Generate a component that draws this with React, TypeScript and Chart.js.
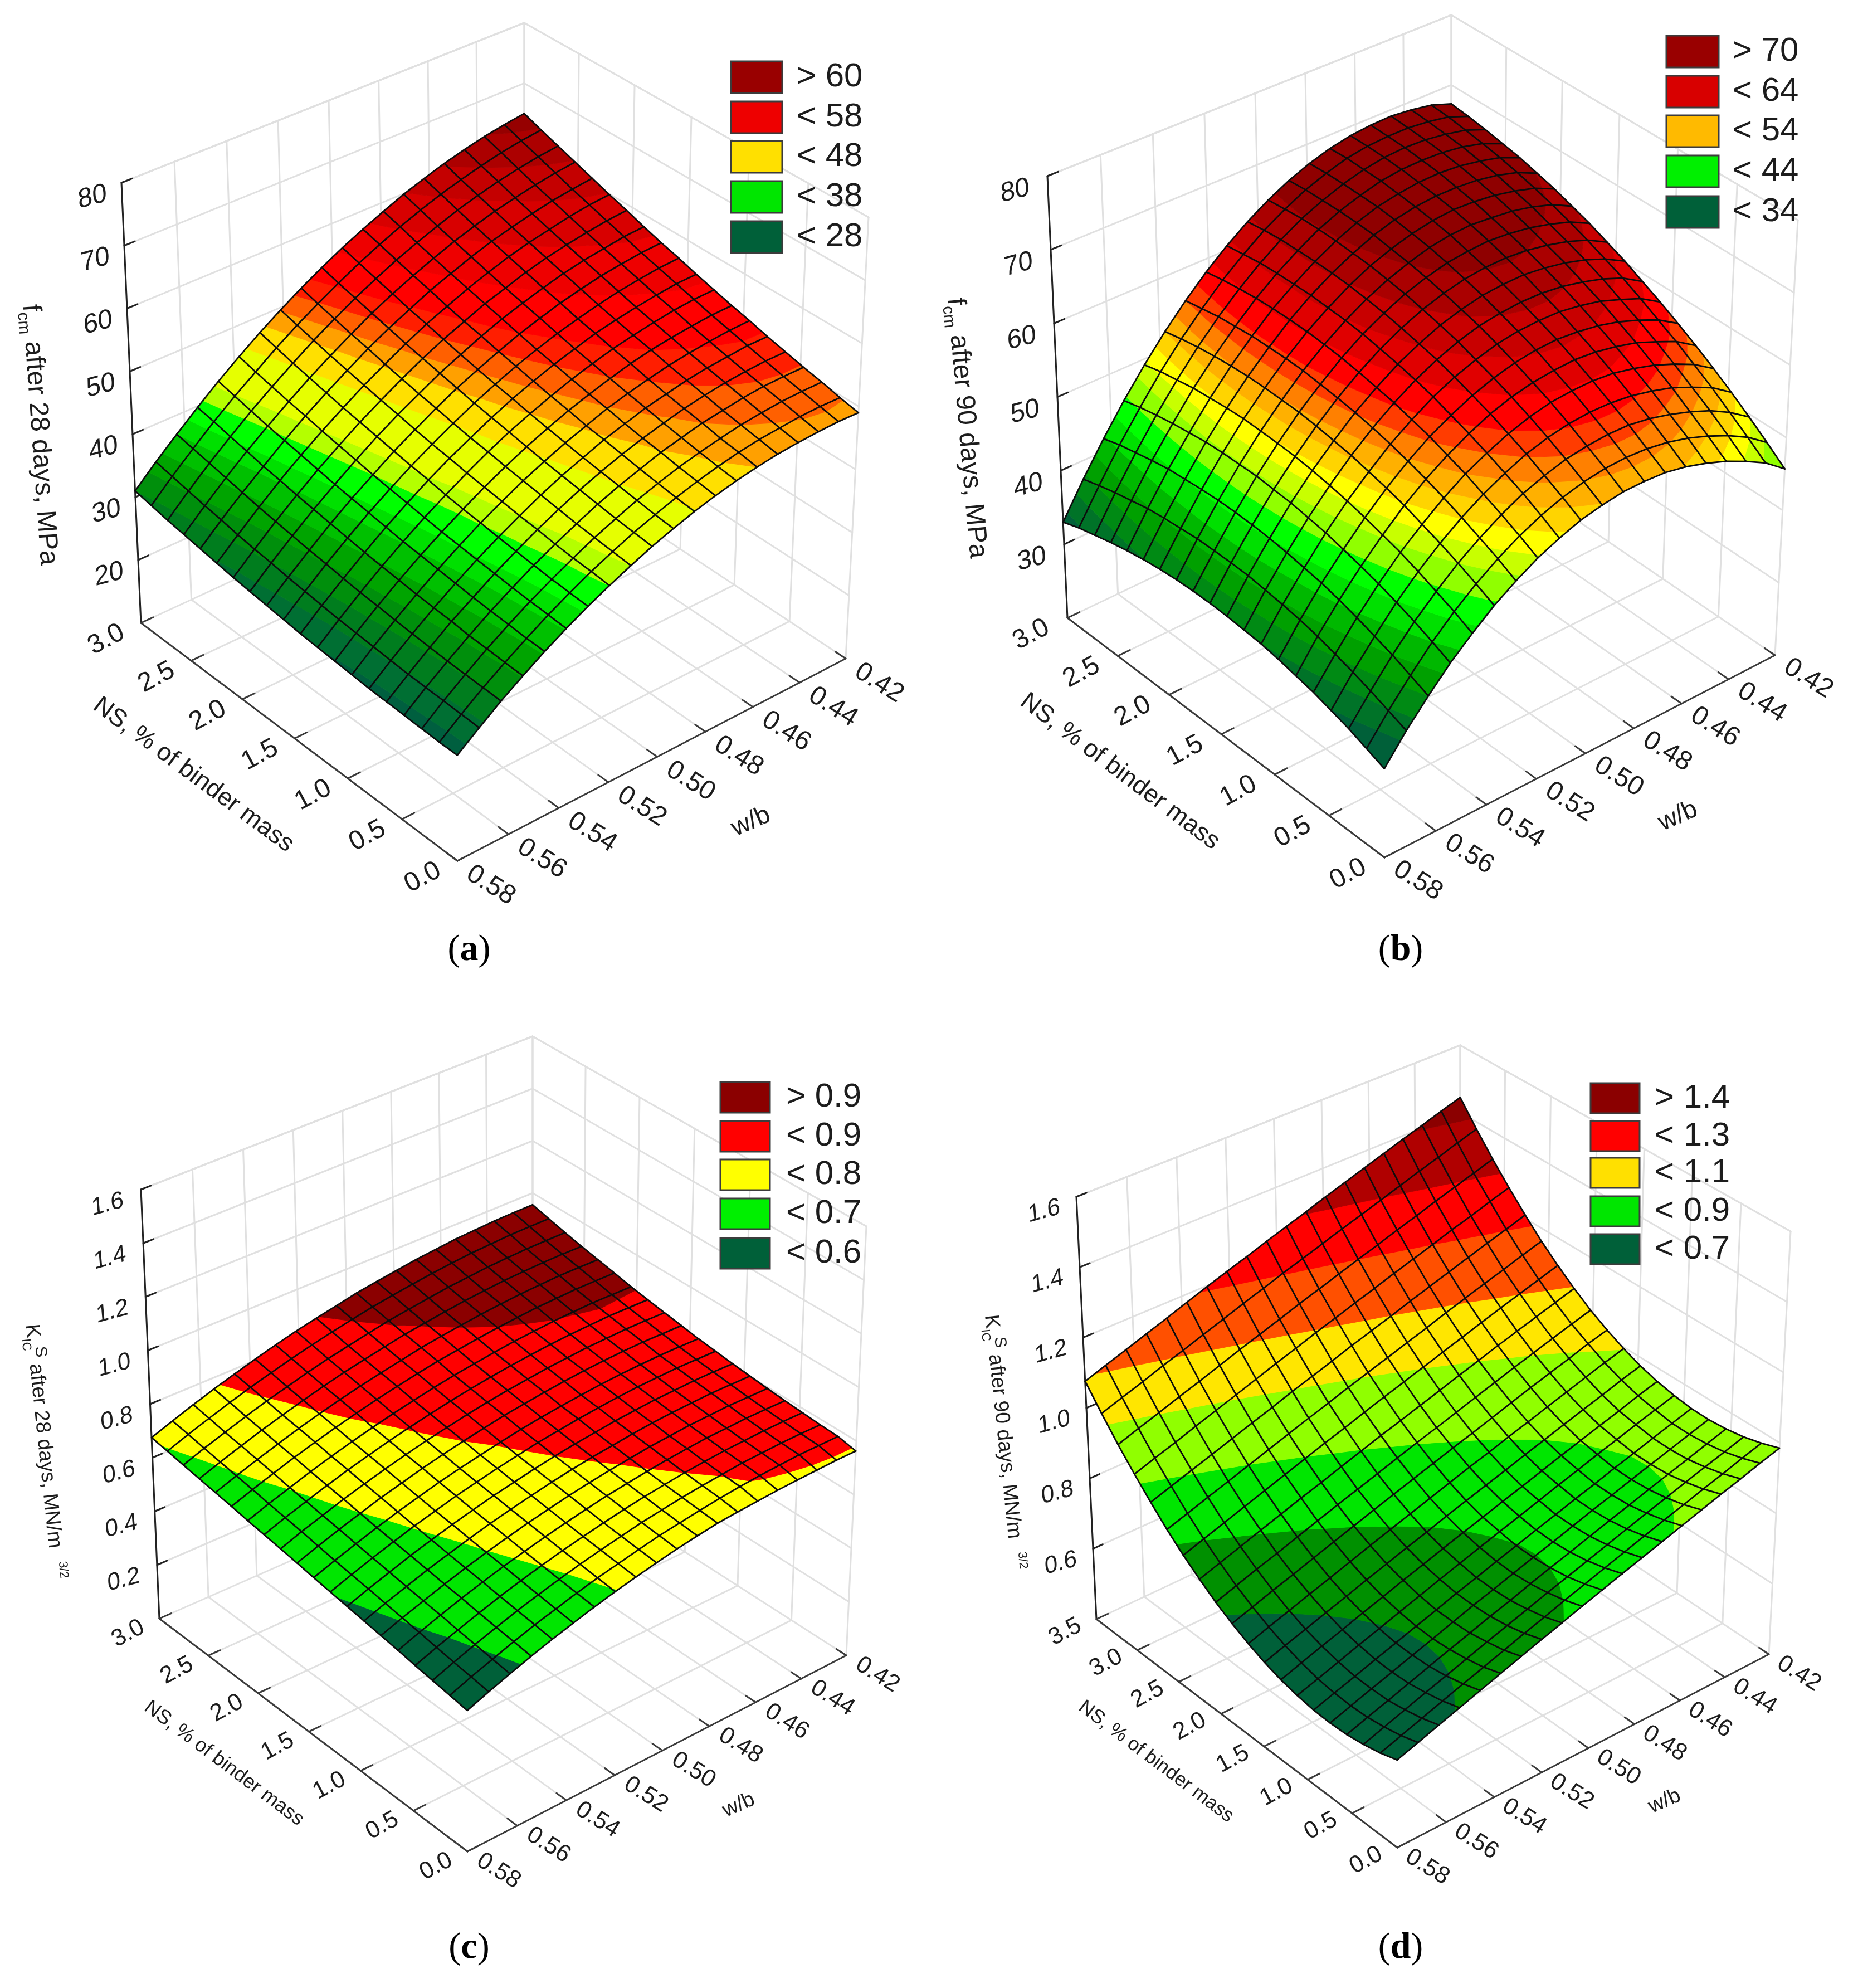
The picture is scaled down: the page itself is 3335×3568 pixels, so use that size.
import React, { useEffect, useRef } from "react";
import { Chart, registerables } from "chart.js";
Chart.register(...registerables);

const W = 3335;
const H = 3568;

const wbTicks = [0.42, 0.44, 0.46, 0.48, 0.5, 0.52, 0.54, 0.56, 0.58];
const wbLabels = ["0.42", "0.44", "0.46", "0.48", "0.50", "0.52", "0.54", "0.56", "0.58"];
const nsTicksAB = [0, 0.5, 1, 1.5, 2, 2.5, 3];
const nsLabelsAB = ["0.0", "0.5", "1.0", "1.5", "2.0", "2.5", "3.0"];
const nsTicksD = [0, 0.5, 1, 1.5, 2, 2.5, 3, 3.5];
const nsLabelsD = ["0.0", "0.5", "1.0", "1.5", "2.0", "2.5", "3.0", "3.5"];
const zTicksFcm = [20, 30, 40, 50, 60, 70, 80];
const zTicksKc = [0.2, 0.4, 0.6, 0.8, 1.0, 1.2, 1.4, 1.6];
const zTicksKd = [0.6, 0.8, 1.0, 1.2, 1.4, 1.6];

// Surface heights: each row is one NS mesh line (0 → max), each column one w/b mesh line (0.58 → 0.42)
const fcm28 = [
[26.0,28.5,30.9,33.1,35.2,37.1,38.9,40.5,42.0,43.4,44.6,45.7,46.6,47.4,48.0,48.5,48.8,49.0,49.1,49.0],
[26.0,28.6,31.0,33.2,35.3,37.3,39.1,40.8,42.3,43.7,44.9,46.0,47.0,47.8,48.5,49.0,49.3,49.6,49.7,49.6],
[26.1,28.7,31.1,33.4,35.5,37.5,39.3,41.0,42.6,44.0,45.3,46.4,47.4,48.2,48.9,49.5,49.9,50.2,50.3,50.3],
[26.2,28.8,31.2,33.5,35.7,37.7,39.6,41.3,42.9,44.4,45.7,46.8,47.9,48.7,49.5,50.0,50.5,50.8,50.9,50.9],
[26.3,28.9,31.4,33.8,35.9,38.0,39.9,41.7,43.3,44.8,46.1,47.3,48.3,49.2,50.0,50.6,51.1,51.4,51.6,51.6],
[26.4,29.1,31.6,34.0,36.2,38.3,40.2,42.0,43.7,45.2,46.5,47.8,48.8,49.8,50.5,51.2,51.7,52.0,52.3,52.3],
[26.6,29.3,31.8,34.2,36.5,38.6,40.6,42.4,44.1,45.6,47.0,48.2,49.4,50.3,51.1,51.8,52.3,52.7,53.0,53.1],
[26.8,29.5,32.1,34.5,36.8,38.9,40.9,42.8,44.5,46.1,47.5,48.8,49.9,50.9,51.8,52.5,53.0,53.4,53.7,53.8],
[27.0,29.7,32.3,34.8,37.1,39.3,41.3,43.2,45.0,46.6,48.0,49.3,50.5,51.5,52.4,53.1,53.7,54.2,54.5,54.6],
[27.2,30.0,32.6,35.1,37.5,39.7,41.8,43.7,45.4,47.1,48.6,49.9,51.1,52.1,53.1,53.8,54.4,54.9,55.3,55.4],
[27.5,30.3,33.0,35.5,37.9,40.1,42.2,44.1,45.9,47.6,49.1,50.5,51.7,52.8,53.7,54.5,55.2,55.7,56.1,56.3],
[27.8,30.6,33.3,35.9,38.3,40.5,42.7,44.6,46.5,48.2,49.7,51.1,52.4,53.5,54.5,55.3,56.0,56.5,56.9,57.1],
[28.1,31.0,33.7,36.3,38.7,41.0,43.2,45.2,47.0,48.8,50.3,51.8,53.1,54.2,55.2,56.1,56.8,57.3,57.8,58.0],
[28.4,31.3,34.1,36.7,39.2,41.5,43.7,45.7,47.6,49.4,51.0,52.4,53.8,54.9,56.0,56.9,57.6,58.2,58.7,59.0],
[28.8,31.7,34.5,37.2,39.7,42.0,44.2,46.3,48.2,50.0,51.7,53.1,54.5,55.7,56.8,57.7,58.4,59.1,59.6,59.9],
[29.2,32.2,35.0,37.6,40.2,42.6,44.8,46.9,48.9,50.7,52.3,53.9,55.2,56.5,57.6,58.5,59.3,60.0,60.5,60.9],
[29.6,32.6,35.5,38.2,40.7,43.1,45.4,47.5,49.5,51.4,53.1,54.6,56.0,57.3,58.4,59.4,60.2,60.9,61.5,61.9],
[30.0,33.1,36.0,38.7,41.3,43.7,46.0,48.2,50.2,52.1,53.8,55.4,56.8,58.1,59.3,60.3,61.2,61.9,62.5,62.9],
[30.5,33.6,36.5,39.3,41.9,44.3,46.7,48.9,50.9,52.8,54.6,56.2,57.7,59.0,60.2,61.2,62.1,62.9,63.5,63.9],
[31.0,34.1,37.0,39.8,42.5,45.0,47.4,49.6,51.7,53.6,55.4,57.0,58.5,59.9,61.1,62.2,63.1,63.9,64.5,65.0],
];
const fcm90 = [
[31.4,34.9,38.0,40.9,43.4,45.7,47.6,49.3,50.6,51.7,52.4,52.9,53.0,52.9,52.4,51.6,50.6,49.3,47.8,45.7],
[32.3,35.8,39.0,42.0,44.6,46.9,48.9,50.6,52.0,53.1,53.9,54.4,54.6,54.5,54.1,53.4,52.4,51.2,49.7,47.7],
[33.2,36.7,40.0,43.0,45.6,48.0,50.0,51.8,53.3,54.4,55.3,55.8,56.1,56.1,55.7,55.0,54.1,53.0,51.5,49.6],
[33.9,37.5,40.8,43.9,46.6,49.0,51.1,52.9,54.4,55.7,56.6,57.2,57.5,57.5,57.2,56.6,55.8,54.6,53.3,51.4],
[34.6,38.2,41.6,44.7,47.5,49.9,52.1,54.0,55.5,56.8,57.8,58.5,58.8,58.9,58.7,58.1,57.3,56.2,54.9,53.1],
[35.1,38.9,42.3,45.4,48.2,50.8,53.0,54.9,56.5,57.9,58.9,59.6,60.0,60.2,60.0,59.5,58.8,57.7,56.5,54.7],
[35.6,39.4,42.9,46.0,48.9,51.5,53.8,55.8,57.4,58.8,59.9,60.7,61.2,61.4,61.2,60.8,60.1,59.1,57.9,56.2],
[36.0,39.8,43.3,46.6,49.5,52.1,54.5,56.5,58.3,59.7,60.8,61.7,62.2,62.4,62.4,62.0,61.4,60.4,59.3,57.6],
[36.2,40.1,43.7,47.0,50.0,52.7,55.1,57.2,59.0,60.5,61.7,62.6,63.1,63.4,63.4,63.1,62.5,61.7,60.6,58.9],
[36.4,40.4,44.0,47.4,50.4,53.1,55.6,57.7,59.6,61.1,62.4,63.3,64.0,64.3,64.4,64.1,63.6,62.8,61.7,60.2],
[36.5,40.5,44.2,47.6,50.7,53.5,56.0,58.2,60.1,61.7,63.0,64.0,64.7,65.1,65.2,65.0,64.5,63.8,62.8,61.3],
[36.5,40.5,44.3,47.8,50.9,53.8,56.3,58.6,60.6,62.2,63.6,64.6,65.4,65.8,66.0,65.8,65.4,64.7,63.8,62.4],
[36.4,40.5,44.3,47.8,51.0,53.9,56.6,58.9,60.9,62.6,64.0,65.1,66.0,66.5,66.7,66.5,66.2,65.6,64.7,63.3],
[36.2,40.3,44.2,47.8,51.1,54.0,56.7,59.1,61.1,62.9,64.4,65.5,66.4,67.0,67.3,67.2,66.9,66.3,65.5,64.2],
[35.9,40.1,44.0,47.7,51.0,54.0,56.7,59.2,61.3,63.1,64.6,65.9,66.8,67.4,67.7,67.7,67.5,67.0,66.2,64.9],
[35.5,39.8,43.8,47.4,50.8,53.9,56.7,59.2,61.3,63.2,64.8,66.1,67.1,67.7,68.1,68.2,68.0,67.5,66.8,65.6],
[35.0,39.3,43.4,47.1,50.6,53.7,56.5,59.1,61.3,63.2,64.9,66.2,67.2,68.0,68.4,68.5,68.4,68.0,67.3,66.1],
[34.4,38.8,42.9,46.7,50.2,53.4,56.3,58.9,61.2,63.2,64.9,66.2,67.3,68.1,68.6,68.8,68.7,68.3,67.7,66.6],
[33.8,38.2,42.4,46.2,49.8,53.0,55.9,58.6,60.9,63.0,64.7,66.2,67.3,68.2,68.7,68.9,68.9,68.6,68.1,67.0],
[33.0,37.5,41.7,45.6,49.2,52.5,55.5,58.2,60.6,62.7,64.5,66.0,67.2,68.1,68.7,69.0,69.1,68.8,68.3,67.3],
];
const kic28 = [
[.500,.529,.556,.582,.606,.628,.649,.668,.685,.701,.716,.728,.739,.745,.750,.755,.758,.760,.762,.762],
[.509,.538,.564,.590,.614,.635,.656,.675,.691,.707,.722,.733,.744,.754,.762,.768,.772,.776,.776,.776],
[.518,.546,.573,.598,.622,.643,.663,.682,.698,.713,.728,.739,.750,.759,.766,.773,.776,.779,.780,.779],
[.527,.555,.581,.606,.630,.651,.671,.689,.705,.720,.734,.746,.756,.765,.772,.778,.781,.784,.785,.784],
[.537,.565,.591,.616,.639,.660,.679,.697,.713,.728,.742,.753,.763,.772,.779,.785,.787,.790,.790,.789],
[.546,.574,.599,.624,.647,.668,.687,.705,.721,.736,.749,.760,.770,.779,.785,.791,.794,.797,.796,.795],
[.555,.583,.608,.633,.655,.676,.696,.713,.729,.744,.757,.768,.777,.786,.793,.798,.801,.804,.803,.802],
[.564,.592,.617,.642,.664,.685,.704,.722,.737,.752,.765,.776,.785,.794,.800,.806,.808,.811,.811,.809],
[.573,.600,.626,.650,.673,.693,.713,.730,.746,.760,.774,.784,.794,.802,.809,.814,.817,.819,.818,.817],
[.582,.609,.635,.659,.682,.702,.722,.739,.754,.769,.782,.793,.802,.810,.817,.822,.825,.827,.827,.825],
[.592,.619,.645,.669,.692,.712,.732,.749,.765,.779,.793,.803,.813,.821,.828,.833,.836,.838,.837,.836],
[.601,.629,.654,.679,.701,.722,.741,.759,.774,.789,.802,.813,.822,.831,.837,.843,.845,.848,.848,.846],
[.610,.638,.663,.688,.711,.731,.751,.768,.784,.799,.812,.823,.833,.841,.848,.853,.856,.859,.858,.857],
[.619,.647,.672,.697,.720,.741,.760,.778,.794,.809,.822,.833,.843,.852,.858,.864,.867,.870,.869,.868],
[.629,.657,.683,.708,.731,.752,.772,.790,.806,.821,.835,.845,.855,.864,.871,.877,.880,.883,.883,.882],
[.638,.666,.692,.717,.741,.762,.782,.800,.816,.831,.846,.857,.867,.876,.883,.889,.893,.896,.896,.895],
[.647,.675,.702,.727,.750,.772,.792,.811,.827,.842,.857,.868,.878,.888,.895,.902,.905,.908,.909,.908],
[.656,.685,.711,.737,.761,.782,.803,.822,.838,.854,.869,.880,.891,.901,.908,.915,.919,.922,.923,.923],
[.666,.695,.722,.748,.772,.794,.815,.834,.851,.867,.882,.894,.905,.915,.923,.930,.934,.938,.939,.939],
[.675,.704,.732,.758,.782,.805,.826,.846,.863,.879,.895,.907,.918,.929,.937,.945,.949,.953,.955,.955],
];
const kic90 = [
[.637,.656,.675,.694,.713,.732,.751,.770,.788,.807,.825,.843,.861,.879,.897,.915,.933,.950,.968,.985],
[.622,.641,.660,.679,.698,.716,.735,.754,.772,.791,.809,.827,.845,.863,.881,.898,.916,.933,.951,.968],
[.612,.631,.650,.669,.687,.706,.725,.743,.761,.780,.797,.815,.833,.851,.869,.886,.904,.921,.938,.955],
[.605,.624,.642,.661,.680,.699,.717,.736,.753,.772,.790,.807,.825,.843,.860,.878,.895,.912,.930,.947],
[.603,.622,.641,.659,.678,.696,.715,.734,.751,.769,.787,.804,.822,.840,.857,.875,.892,.909,.926,.943],
[.605,.624,.642,.661,.679,.698,.716,.735,.752,.771,.788,.806,.823,.841,.858,.876,.893,.910,.927,.944],
[.612,.630,.649,.668,.686,.705,.723,.742,.760,.778,.796,.813,.831,.849,.866,.884,.901,.918,.935,.951],
[.622,.641,.660,.678,.697,.715,.734,.752,.770,.788,.805,.823,.840,.858,.876,.893,.910,.927,.945,.961],
[.637,.656,.674,.693,.711,.730,.748,.767,.784,.803,.820,.838,.855,.873,.890,.908,.925,.942,.960,.976],
[.656,.675,.693,.712,.730,.749,.768,.786,.804,.822,.840,.858,.875,.893,.910,.928,.945,.963,.980,.996],
[.679,.698,.717,.735,.754,.773,.791,.810,.828,.846,.864,.882,.899,.917,.935,.953,.970,.987,1.005,1.020],
[.706,.725,.744,.762,.781,.800,.819,.837,.855,.874,.892,.909,.927,.945,.963,.981,.998,1.015,1.032,1.048],
[.738,.757,.776,.795,.814,.833,.851,.870,.888,.907,.924,.942,.960,.978,.996,1.014,1.031,1.048,1.065,1.082],
[.773,.792,.811,.830,.849,.868,.887,.906,.924,.943,.961,.979,.997,1.015,1.033,1.051,1.069,1.086,1.103,1.120],
[.813,.832,.851,.870,.889,.908,.927,.946,.964,.983,1.001,1.019,1.037,1.055,1.074,1.092,1.110,1.127,1.145,1.162],
[.858,.877,.896,.915,.934,.953,.972,.992,1.010,1.029,1.048,1.066,1.084,1.103,1.121,1.139,1.157,1.175,1.192,1.210],
[.906,.925,.944,.964,.983,1.002,1.022,1.042,1.060,1.080,1.098,1.117,1.135,1.154,1.172,1.190,1.209,1.226,1.245,1.262],
[.958,.978,.997,1.017,1.036,1.056,1.076,1.095,1.114,1.134,1.152,1.171,1.190,1.208,1.227,1.245,1.264,1.282,1.300,1.318],
[1.015,1.035,1.054,1.075,1.094,1.114,1.134,1.154,1.173,1.193,1.211,1.230,1.249,1.267,1.286,1.305,1.324,1.342,1.361,1.379],
[1.076,1.096,1.116,1.136,1.156,1.177,1.197,1.217,1.236,1.256,1.275,1.294,1.314,1.333,1.352,1.371,1.390,1.408,1.427,1.445],
];

// Contour levels and the colour of each band between them
const levelsA = [27, 29, 31, 33, 35, 37, 38.5, 40.5, 42, 45.8, 48, 49.5, 51, 52.5, 55, 57.5, 60, 62, 64];
const colorsA = ["#005f3f", "#006f33", "#007d1e", "#008f0c", "#00a400", "#00c000", "#00e000", "#00ff00", "#b4ff00", "#e6ff00", "#ffe000", "#ffa000", "#ff6000", "#ff1e00", "#ff0000", "#ee0000", "#d80000", "#c40000", "#ac0000", "#960000"];
const levelsB = [34, 36, 38, 40, 42, 44, 46, 48, 49.5, 51, 52.5, 54, 55.5, 57, 59, 61, 63, 65];
const colorsB = ["#006039", "#007328", "#008a14", "#00a000", "#00b800", "#00e000", "#00ff00", "#90ff00", "#c8ff00", "#ffff00", "#ffd400", "#ffb000", "#ff8000", "#ff3c00", "#ff0000", "#e00000", "#c80000", "#aa0000", "#8f0000"];
const levelsC = [0.57, 0.67, 0.765, 0.865];
const colorsC = ["#006039", "#00e600", "#ffff00", "#ff0000", "#8b0000"];
const levelsD = [0.69, 0.79, 0.89, 0.995, 1.085, 1.19, 1.29, 1.4];
const colorsD = ["#006039", "#009000", "#00e600", "#90ff00", "#ffe600", "#ff5000", "#ff0000", "#b00000", "#8b0000"];

const legendA = [["> 60", "#990000"], ["< 58", "#ee0000"], ["< 48", "#ffe000"], ["< 38", "#00e600"], ["< 28", "#006039"]];
const legendB = [["> 70", "#990000"], ["< 64", "#d80000"], ["< 54", "#ffba00"], ["< 44", "#00f000"], ["< 34", "#006039"]];
const legendC = [["> 0.9", "#8b0000"], ["< 0.9", "#ff0000"], ["< 0.8", "#ffff00"], ["< 0.7", "#00f000"], ["< 0.6", "#006039"]];
const legendD = [["> 1.4", "#8b0000"], ["< 1.3", "#ff0000"], ["< 1.1", "#ffe000"], ["< 0.9", "#00e600"], ["< 0.7", "#006039"]];

type Pt = [number, number];
const panels: any[] = [
  {
    rows: fcm28, levels: levelsA, colors: colorsA, legend: legendA, zMin: 10, zMax: 80, nsMax: 3,
    zTicks: zTicksFcm, zLabels: zTicksFcm.map(String), nsTicks: nsTicksAB, nsLabels: nsLabelsAB,
    F0: [821, 1545], R0: [1518, 1182], L0: [253, 1118], B0: [941, 800],
    F1: [820, 715], R1: [1559, 390], L1: [218, 328], B1: [941, 41],
    wbOff: [60, 44], nsOff: [-62, 30], zOff: [-52, 26], tickFont: 48,
    wbTitle: [1348, 1475, 46], nsTitle: [347, 1391, 45, 36.5],
    zTitle: { x: 74, y: 780, rot: 86, font: 48, parts: [["f", 1, 0], ["cm", 0.62, 0.2], [" after 28 days, MPa", 1, 0]] },
    legendBox: [1312, 1404, [110, 182, 253, 325, 397], 57, 1430, 60],
    caption: ["a", 842, 1706],
  },
  {
    rows: fcm90, levels: levelsB, colors: colorsB, legend: legendB, zMin: 20, zMax: 80, nsMax: 3,
    zTicks: zTicksFcm.slice(1), zLabels: zTicksFcm.slice(1).map(String), nsTicks: nsTicksAB, nsLabels: nsLabelsAB,
    F0: [2485, 1539], R0: [3186, 1176], L0: [1916, 1109], B0: [2605, 780],
    F1: [2484, 700], R1: [3227, 395], L1: [1880, 316], B1: [2605, 27],
    wbOff: [60, 42], nsOff: [-65, 30], zOff: [-58, 27], tickFont: 48,
    wbTitle: [3012, 1465, 46], nsTitle: [2010, 1385, 45, 37],
    zTitle: { x: 1738, y: 768, rot: 85, font: 48, parts: [["f", 1, 0], ["cm", 0.62, 0.2], [" after 90 days, MPa", 1, 0]] },
    legendBox: [2991, 3085, [64, 136, 207, 279, 352], 57, 3110, 60],
    caption: ["b", 2514, 1706],
  },
  {
    rows: kic28, levels: levelsC, colors: colorsC, legend: legendC, zMin: 0, zMax: 1.6, nsMax: 3,
    zTicks: zTicksKc, zLabels: zTicksKc.map((v) => v.toFixed(1)), nsTicks: nsTicksAB, nsLabels: nsLabelsAB,
    F0: [839, 3323], R0: [1519, 2971], L0: [286, 2905], B0: [956, 2610],
    F1: [838, 2513], R1: [1555, 2201], L1: [253, 2135], B1: [956, 1860],
    wbOff: [56, 35], nsOff: [-56, 27], zOff: [-60, 27], tickFont: 43,
    wbTitle: [1326, 3240, 38], nsTitle: [402, 3165, 36, 37],
    zTitle: { x: 83, y: 2605, rot: 84, font: 37, parts: [["K", 1, 0], ["IC", 0.6, 0.25, true], ["  S", 0.8, -0.35], [" after 28 days, MN/m", 1, 0], ["    3/2", 0.6, -0.4]] },
    legendBox: [1293, 1382, [1942, 2012, 2081, 2151, 2222], 55, 1411, 60],
    caption: ["c", 842, 3497],
  },
  {
    rows: kic90, levels: levelsD, colors: colorsD, legend: legendD, zMin: 0.4, zMax: 1.6, nsMax: 3.5,
    zTicks: zTicksKd, zLabels: zTicksKd.map((v) => v.toFixed(1)), nsTicks: nsTicksD, nsLabels: nsLabelsD,
    F0: [2508, 3316], R0: [3175, 2969], L0: [1968, 2906], B0: [2621, 2600],
    F1: [2507, 2520], R1: [3214, 2210], L1: [1932, 2148], B1: [2621, 1876],
    wbOff: [54, 35], nsOff: [-56, 23], zOff: [-58, 26], tickFont: 43,
    wbTitle: [2988, 3233, 38], nsTitle: [2075, 3162, 35, 37],
    zTitle: { x: 1805, y: 2588, rot: 84, font: 37, parts: [["K", 1, 0], ["IC", 0.6, 0.25, true], ["  S", 0.8, -0.35], [" after 90 days, MN/m", 1, 0], ["    3/2", 0.6, -0.4]] },
    legendBox: [2855, 2943, [1944, 2012, 2078, 2147, 2215], 54, 2970, 60],
    caption: ["d", 2514, 3497],
  },
];

const warp = (s: number) => (1.06 * s) / (1 + 0.06 * s);

// Maps (t along w/b, v along NS, height z) to chart coordinates through the panel's box
function project(p: any, t: number, v: number, z: number) {
  const T = warp(t);
  const V = warp(v);
  const h = (z - p.zMin) / (p.zMax - p.zMin);
  const bi = (f: Pt, r: Pt, l: Pt, b: Pt, k: number) =>
    (1 - T) * (1 - V) * f[k] + T * (1 - V) * r[k] + (1 - T) * V * l[k] + T * V * b[k];
  const lo0 = bi(p.F0, p.R0, p.L0, p.B0, 0);
  const lo1 = bi(p.F0, p.R0, p.L0, p.B0, 1);
  const hi0 = bi(p.F1, p.R1, p.L1, p.B1, 0);
  const hi1 = bi(p.F1, p.R1, p.L1, p.B1, 1);
  return { x: lo0 + (hi0 - lo0) * h, y: lo1 + (hi1 - lo1) * h };
}

const wbToT = (w: number) => (0.58 - w) / 0.16;

function clipAt(poly: number[][], level: number, above: boolean) {
  const out: number[][] = [];
  const inside = (q: number[]) => (above ? q[2] >= level : q[2] <= level);
  for (let k = 0; k < poly.length; k++) {
    const a = poly[k];
    const b = poly[(k + 1) % poly.length];
    const ia = inside(a);
    const ib = inside(b);
    if (ia) out.push(a);
    if (ia !== ib) {
      const f = (level - a[2]) / (b[2] - a[2]);
      out.push([a[0] + (b[0] - a[0]) * f, a[1] + (b[1] - a[1]) * f, level]);
    }
  }
  return out;
}

const lineDs = (data: any[], color: string, width: number) => ({
  type: "scatter", data, showLine: true, borderColor: color, borderWidth: width,
  pointRadius: 0, fill: false, tension: 0, borderCapStyle: "round", clip: false,
});
const polyDs = (data: any[], color: string) => ({
  type: "scatter", data, showLine: true, borderColor: color, borderWidth: 1, backgroundColor: color,
  pointRadius: 0, fill: "shape", tension: 0, clip: false,
});

const GRID = "#e0e0e0";
const AXIS = "#3a3a3a";
const WIRE = "#0c0c0c";

function buildDatasets() {
  const paint: any[] = [];
  for (const p of panels) {
    const seg = (a: number[], b: number[], c: string, w: number) =>
      paint.push(lineDs([project(p, a[0], a[1], a[2]), project(p, b[0], b[1], b[2])], c, w));
    const ts = wbTicks.map(wbToT);
    const vs = p.nsTicks.map((n: number) => n / p.nsMax);
    // walls and floor
    for (const t of ts) {
      seg([t, 1, p.zMin], [t, 1, p.zMax], GRID, 3);
      seg([t, 0, p.zMin], [t, 1, p.zMin], GRID, 3);
    }
    for (const v of vs) {
      seg([1, v, p.zMin], [1, v, p.zMax], GRID, 3);
      seg([0, v, p.zMin], [1, v, p.zMin], GRID, 3);
    }
    for (const z of p.zTicks) {
      seg([0, 1, z], [1, 1, z], GRID, 3);
      seg([1, 1, z], [1, 0, z], GRID, 3);
    }
    seg([0, 1, p.zMax], [1, 1, p.zMax], GRID, 3);
    seg([1, 1, p.zMax], [1, 0, p.zMax], GRID, 3);
    // axes
    seg([0, 0, p.zMin], [1, 0, p.zMin], AXIS, 3);
    seg([0, 0, p.zMin], [0, 1, p.zMin], AXIS, 3);
    seg([0, 1, p.zMin], [0, 1, p.zMax], "#222222", 3);
    for (const t of ts) seg([t, 0, p.zMin], [t, 0.03, p.zMin], AXIS, 3);
    for (const v of vs) seg([0, v, p.zMin], [0.03, v, p.zMin], AXIS, 3);
    for (const z of p.zTicks) seg([0, 1, z], [0.025, 1, z], "#222222", 3);
    // surface cells, back to front
    const rows: number[][] = p.rows;
    const nV = rows.length - 1;
    const nT = rows[0].length - 1;
    for (let j = nV - 1; j >= 0; j--) {
      for (let i = nT - 1; i >= 0; i--) {
        const quad = [
          [i / nT, j / nV, rows[j][i]],
          [(i + 1) / nT, j / nV, rows[j][i + 1]],
          [(i + 1) / nT, (j + 1) / nV, rows[j + 1][i + 1]],
          [i / nT, (j + 1) / nV, rows[j + 1][i]],
        ];
        const zs = quad.map((q) => q[2]);
        const zLo = Math.min(...zs);
        const zHi = Math.max(...zs);
        for (let b = 0; b < p.colors.length; b++) {
          const lo = b === 0 ? -Infinity : p.levels[b - 1];
          const hi = b === p.colors.length - 1 ? Infinity : p.levels[b];
          if (zHi < lo || zLo >= hi) continue;
          let poly = quad;
          if (zLo < lo) poly = clipAt(poly, lo, true);
          if (zHi > hi && poly.length) poly = clipAt(poly, hi, false);
          if (poly.length < 3) continue;
          const pts = poly.map((q) => project(p, q[0], q[1], q[2]));
          pts.push(pts[0]);
          paint.push(polyDs(pts, p.colors[b]));
        }
      }
    }
    // wire mesh
    for (let j = 0; j <= nV; j++)
      paint.push(lineDs(rows[j].map((z, i) => project(p, i / nT, j / nV, z)), WIRE, 2.8));
    for (let i = 0; i <= nT; i++)
      paint.push(lineDs(rows.map((r, j) => project(p, i / nT, j / nV, r[i])), WIRE, 2.8));
  }
  // Chart.js paints the last dataset first
  return paint.reverse();
}

const SANS = '"Liberation Sans", Arial, sans-serif';

const textPlugin = {
  id: "surfaceText",
  afterDraw(chart: any) {
    const ctx = chart.ctx as CanvasRenderingContext2D;
    const sx = chart.scales.x;
    const sy = chart.scales.y;
    const label = (text: string, x: number, y: number, size: number, rot: number, shear = 0, align: CanvasTextAlign = "center") => {
      ctx.save();
      ctx.translate(sx.getPixelForValue(x), sy.getPixelForValue(y));
      ctx.rotate((rot * Math.PI) / 180);
      ctx.transform(1, 0, shear, 1, 0, 0);
      ctx.font = `${size}px ${SANS}`;
      ctx.textAlign = align;
      ctx.textBaseline = "middle";
      ctx.fillStyle = "#1c1c1c";
      ctx.fillText(text, 0, 0);
      ctx.restore();
    };
    for (const p of panels) {
      wbTicks.forEach((w, k) => {
        const q = project(p, wbToT(w), 0, p.zMin);
        label(wbLabels[k], q.x + p.wbOff[0], q.y + p.wbOff[1], p.tickFont, 32);
      });
      p.nsTicks.forEach((n: number, k: number) => {
        const q = project(p, 0, n / p.nsMax, p.zMin);
        label(p.nsLabels[k], q.x + p.nsOff[0], q.y + p.nsOff[1], p.tickFont, -28);
      });
      p.zTicks.forEach((z: number, k: number) => {
        const q = project(p, 0, 1, z);
        label(p.zLabels[k], q.x + p.zOff[0], q.y + p.zOff[1], p.tickFont, -15, -0.18);
      });
      label("w/b", p.wbTitle[0], p.wbTitle[1], p.wbTitle[2], -24);
      label("NS, % of binder mass", p.nsTitle[0], p.nsTitle[1], p.nsTitle[2], p.nsTitle[3]);
      // z title made of base, subscript and superscript runs
      const zt = p.zTitle;
      ctx.save();
      ctx.translate(sx.getPixelForValue(zt.x), sy.getPixelForValue(zt.y));
      ctx.rotate((zt.rot * Math.PI) / 180);
      ctx.textBaseline = "alphabetic";
      ctx.textAlign = "left";
      ctx.fillStyle = "#1c1c1c";
      let total = 0;
      for (const [s, k, , noAdv] of zt.parts) {
        ctx.font = `${zt.font * k}px ${SANS}`;
        if (!noAdv) total += ctx.measureText(s).width;
      }
      let cx = -total / 2;
      for (const [s, k, dy, noAdv] of zt.parts) {
        ctx.font = `${zt.font * k}px ${SANS}`;
        ctx.fillText(s, cx, zt.font * 0.35 + dy * zt.font);
        if (!noAdv) cx += ctx.measureText(s).width;
      }
      ctx.restore();
      // legend
      const [x0, x1, ys, hgt, tx, fs] = p.legendBox;
      p.legend.forEach(([txt, col]: string[], k: number) => {
        const px0 = sx.getPixelForValue(x0);
        const py0 = sy.getPixelForValue(ys[k]);
        ctx.fillStyle = col;
        ctx.fillRect(px0, py0, x1 - x0, hgt);
        ctx.strokeStyle = "#3c3c3c";
        ctx.lineWidth = 3;
        ctx.strokeRect(px0, py0, x1 - x0, hgt);
        label(txt, tx, ys[k] + hgt / 2, fs, 0, 0, "left");
      });
      // caption
      const [letter, cxp, cyp] = p.caption;
      ctx.save();
      ctx.fillStyle = "#000000";
      ctx.textBaseline = "middle";
      ctx.textAlign = "left";
      const reg = '66px "Liberation Serif", serif';
      const bold = 'bold 66px "Liberation Serif", serif';
      ctx.font = reg;
      const pw = ctx.measureText("(").width;
      ctx.font = bold;
      const lw = ctx.measureText(letter).width;
      let xx = sx.getPixelForValue(cxp) - (2 * pw + lw) / 2;
      const yy = sy.getPixelForValue(cyp);
      ctx.font = reg;
      ctx.fillText("(", xx, yy);
      xx += pw;
      ctx.font = bold;
      ctx.fillText(letter, xx, yy);
      xx += lw;
      ctx.font = reg;
      ctx.fillText(")", xx, yy);
      ctx.restore();
    }
  },
};

export default function App() {
  const ref = useRef<HTMLCanvasElement | null>(null);
  useEffect(() => {
    if (!ref.current) return;
    const chart = new Chart(ref.current, {
      type: "scatter",
      data: { datasets: buildDatasets() as any },
      options: {
        animation: false,
        responsive: false,
        devicePixelRatio: 1,
        events: [],
        layout: { padding: 0 },
        plugins: { legend: { display: false }, tooltip: { enabled: false }, title: { display: false } },
        scales: {
          x: { type: "linear", min: 0, max: W, display: false },
          y: { type: "linear", min: 0, max: H, reverse: true, display: false },
        },
      },
      plugins: [textPlugin],
    } as any);
    return () => chart.destroy();
  }, []);
  return (
    <div style={{ position: "absolute", left: 0, top: 0, width: W, height: H, background: "#ffffff" }}>
      <canvas ref={ref} width={W} height={H} style={{ display: "block" }} />
    </div>
  );
}
